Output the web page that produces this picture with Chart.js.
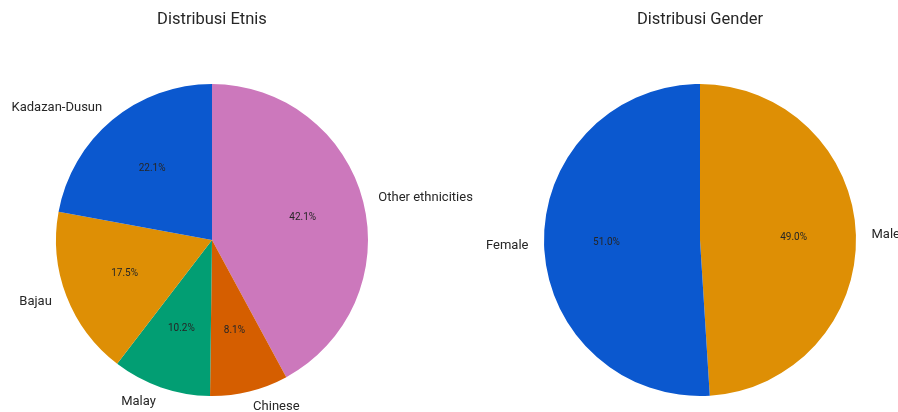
<!DOCTYPE html>
<html>
<head>
<meta charset="utf-8">
<script src="https://cdn.jsdelivr.net/npm/chart.js@4.4.0/dist/chart.umd.min.js"></script>
<style>
  html, body { margin:0; padding:0; background:#fff; }
  .wrap { position:relative; width:898px; height:412px; }
  .box { position:absolute; top:0; left:0; height:412px; width:898px; }
</style>
</head>
<body>
<div class="wrap">
  <div class="box"><canvas id="chartEtnis"></canvas></div>
  <div class="box"><canvas id="chartGender"></canvas></div>
</div>
<script>
// data (listed in clockwise order from 12 o'clock, as Chart.js draws)
const etnisLabels = ['Other ethnicities','Chinese','Malay','Bajau','Kadazan-Dusun'];
const etnisValues = [42.1, 8.1, 10.2, 17.5, 22.1];
const etnisColors = ['#cc78bc','#d55e00','#029e73','#de8f05','#0b58cf'];

const genderLabels = ['Male','Female'];
const genderValues = [49.0, 51.0];
const genderColors = ['#de8f05','#0b58cf'];

const FONT = 'Roboto, "Noto Sans", sans-serif';

// draws the title, outside labels and percentage texts like matplotlib's pie
const pieText = {
  id: 'pieText',
  afterDatasetsDraw(chart, args, opts){
    const ctx = chart.ctx;
    const meta = chart.getDatasetMeta(0);
    const vals = chart.data.datasets[0].data;
    const total = vals.reduce((a,b)=>a+b,0);
    ctx.save();
    let cx = 0;
    meta.data.forEach((arc,i)=>{
      const p = arc.getProps(['x','y','startAngle','endAngle','outerRadius'], true);
      const r = p.outerRadius;
      cx = p.x;
      const mid = (p.startAngle + p.endAngle)/2;
      const c = Math.cos(mid), s = Math.sin(mid);
      // category label
      ctx.fillStyle = '#262626';
      ctx.font = '13px ' + FONT;
      ctx.textBaseline = 'middle';
      ctx.textAlign = c > 0 ? 'left' : 'right';
      ctx.fillText(chart.data.labels[i], p.x + c*r*1.1, p.y + s*r*1.1);
      // percentage
      ctx.font = '10px ' + FONT;
      ctx.textAlign = 'center';
      ctx.fillText((vals[i]/total*100).toFixed(1) + '%', p.x + c*r*0.6, p.y + s*r*0.6);
    });
    // title
    ctx.fillStyle = '#262626';
    ctx.font = '16.5px ' + FONT;
    ctx.textAlign = 'center';
    ctx.textBaseline = 'middle';
    ctx.fillText(opts.text, cx, 20);
    ctx.restore();
  }
};

function makePie(id, labels, values, colors, title, pad){
  new Chart(document.getElementById(id), {
    type: 'pie',
    data: {
      labels,
      datasets: [{
        data: values,
        backgroundColor: colors,
        borderWidth: 0,
        hoverOffset: 0,
        offset: 0
      }]
    },
    options: {
      responsive: true,
      maintainAspectRatio: false,
      animation: false,
      rotation: 0,
      layout: { padding: pad },
      plugins: {
        legend: { display:false },
        tooltip: { enabled:false },
        pieText: { text: title }
      },
      events: []
    },
    plugins: [pieText]
  });
}

makePie('chartEtnis', etnisLabels, etnisValues, etnisColors, 'Distribusi Etnis',
  {top:84, bottom:16, left:56, right:530});
makePie('chartGender', genderLabels, genderValues, genderColors, 'Distribusi Gender',
  {top:84, bottom:16, left:544, right:42});
</script>
</body>
</html>
